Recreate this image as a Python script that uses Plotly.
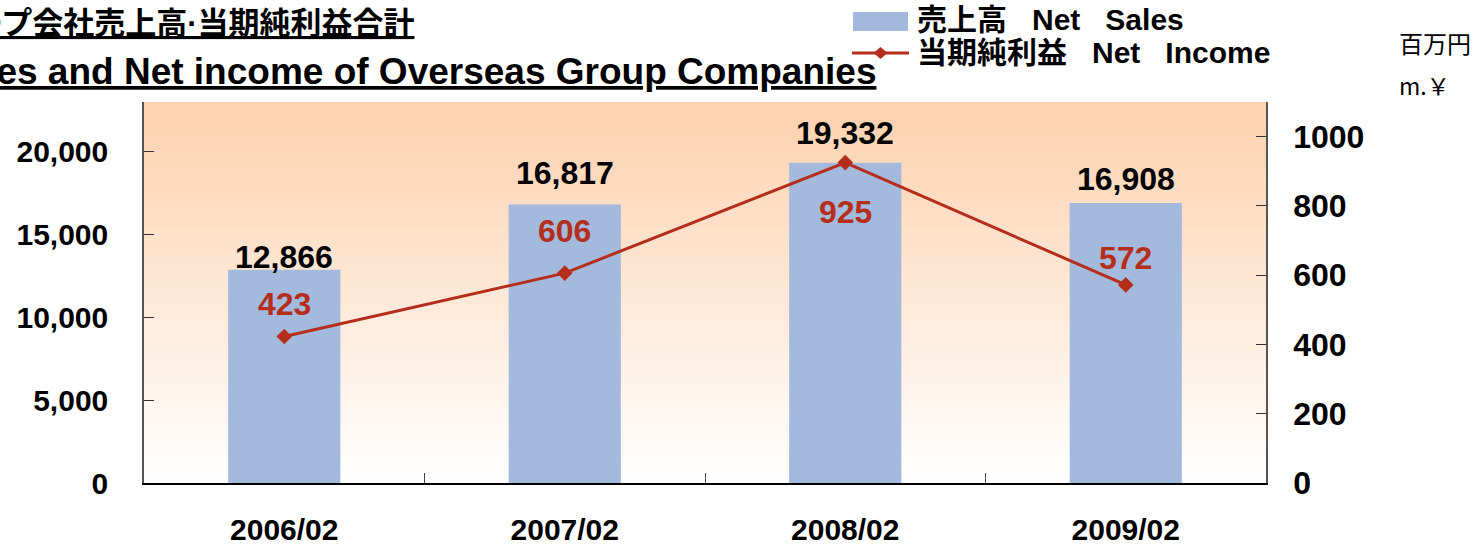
import plotly.graph_objects as go

# ---- data ----
categories = ["2006/02", "2007/02", "2008/02", "2009/02"]
net_sales = [12866, 16817, 19332, 16908]
net_income = [423, 606, 925, 572]
sales_tick_vals = [0, 5000, 10000, 15000, 20000]
sales_tick_text = ["0", "5,000", "10,000", "15,000", "20,000"]
income_tick_vals = [0, 200, 400, 600, 800, 1000]
income_tick_text = ["0", "200", "400", "600", "800", "1000"]
sales_name = "売上高\u00a0\u00a0\u00a0Net\u00a0\u00a0\u00a0Sales"
income_name = "当期純利益\u00a0\u00a0\u00a0Net\u00a0\u00a0\u00a0Income"

# ---- style ----
sales_label_shift = [13, 31, 30, 24]
income_label_shift = [32, 42, -49, 27]
BAR_COLOR = "#A3BADC"
LINE_COLOR = "#B52E1C"
FONT = "Liberation Sans, Arial, Noto Sans CJK JP, sans-serif"
JFONT = "Noto Sans CJK JP, Liberation Sans, sans-serif"

W, H = 1484, 547
ML, MR, MT, MB = 144, 218, 102, 64
PW, PH = W - ML - MR, H - MT - MB


def px(xp):
    return (xp - ML) / PW


def py(yp):
    return (H - MB - yp) / PH


fig = go.Figure()
fig.add_trace(go.Bar(
    x=categories, y=net_sales, name=sales_name, showlegend=False,
    marker=dict(color=BAR_COLOR, line=dict(width=0)), width=0.4, yaxis="y",
))
fig.add_trace(go.Scatter(
    x=categories, y=net_income, name=income_name, showlegend=False,
    mode="lines+markers", yaxis="y2",
    line=dict(color=LINE_COLOR, width=3),
    marker=dict(symbol="diamond", size=12, color=LINE_COLOR),
))

annotations = []
for c, v, s in zip(categories, net_sales, sales_label_shift):
    annotations.append(dict(x=c, y=v, xref="x", yref="y", text=f"<b>{v:,}</b>",
                            showarrow=False, yanchor="middle", yshift=s,
                            font=dict(family=FONT, size=32, color="black")))
for c, v, s in zip(categories, net_income, income_label_shift):
    annotations.append(dict(x=c, y=v, xref="x", yref="y2", text=f"<b>{v}</b>",
                            showarrow=False, yanchor="middle", yshift=s,
                            font=dict(family=FONT, size=32, color=LINE_COLOR)))

# titles (left part is cut by the page edge, as in the reference)
annotations.append(dict(xref="paper", yref="paper", x=px(416), y=py(24), xanchor="right",
                        yanchor="middle", showarrow=False,
                        text="<b><u>海外グループ会社売上高·当期純利益合計</u></b>",
                        font=dict(family=FONT, size=31, color="black")))
annotations.append(dict(xref="paper", yref="paper", x=px(878), y=py(72), xanchor="right",
                        yanchor="middle", showarrow=False,
                        text="<b><u>Net Sales and Net income of Overseas Group Companies</u></b>",
                        font=dict(family=FONT, size=37, color="black")))
# unit labels
annotations.append(dict(xref="paper", yref="paper", x=px(1397), y=py(43), xanchor="left",
                        yanchor="middle", showarrow=False, text="百万円",
                        font=dict(family=JFONT, size=24, color="black")))
annotations.append(dict(xref="paper", yref="paper", x=px(1397), y=py(85), xanchor="left",
                        yanchor="middle", showarrow=False, text="m.￥",
                        font=dict(family=JFONT, size=23, color="black")))

# custom legend
annotations.append(dict(xref="paper", yref="paper", x=px(915), y=py(19), xanchor="left",
                        yanchor="middle", showarrow=False, text=f"<b>{sales_name}</b>",
                        font=dict(family=FONT, size=30, color="black")))
annotations.append(dict(xref="paper", yref="paper", x=px(915), y=py(52), xanchor="left",
                        yanchor="middle", showarrow=False, text=f"<b>{income_name}</b>",
                        font=dict(family=FONT, size=30, color="black")))

shapes = []
# background gradient in plot area
N = 90
top = (252, 209, 174)
for i in range(N):
    t = i / (N - 1)  # 0 bottom -> 1 top
    r = round(255 + (top[0] - 255) * t)
    g = round(255 + (top[1] - 255) * t)
    b = round(255 + (top[2] - 255) * t)
    shapes.append(dict(type="rect", xref="paper", yref="paper", x0=0, x1=1,
                       y0=i / N, y1=min((i + 1) / N + 0.002, 1), layer="below",
                       fillcolor=f"rgb({r},{g},{b})", line=dict(width=0)))

# legend symbols
shapes.append(dict(type="rect", xref="paper", yref="paper", x0=px(853), x1=px(908),
                   y0=py(31), y1=py(12), fillcolor=BAR_COLOR, line=dict(width=0)))
shapes.append(dict(type="line", xref="paper", yref="paper", x0=px(852), x1=px(909),
                   y0=py(53), y1=py(53), line=dict(color=LINE_COLOR, width=3)))
cx, cy, dx, dy = 880.5, 53, 7, 6
shapes.append(dict(type="path", xref="paper", yref="paper",
                   path=(f"M{px(cx - dx)},{py(cy)} L{px(cx)},{py(cy - dy)} "
                         f"L{px(cx + dx)},{py(cy)} L{px(cx)},{py(cy + dy)} Z"),
                   fillcolor=LINE_COLOR, line=dict(width=0)))

fig.update_layout(
    width=W, height=H,
    margin=dict(l=ML, r=MR, t=MT, b=MB, autoexpand=False),
    paper_bgcolor="white", plot_bgcolor="rgba(0,0,0,0)",
    font=dict(family=FONT, color="black"),
    showlegend=False,
    bargap=0.6,
    xaxis=dict(type="category", showgrid=False, showline=True, linecolor="black", linewidth=1.5,
               ticks="inside", tickson="boundaries", ticklen=10, tickcolor="#444",
               tickfont=dict(family=FONT, size=30, color="black"),
               tickvals=categories, ticktext=[f"<b>{c}</b>" for c in categories],
               ticklabelstandoff=19, zeroline=False),
    yaxis=dict(range=[0, 23000], tickvals=sales_tick_vals,
               ticktext=[f"<b>{t}</b>" for t in sales_tick_text],
               showgrid=False, showline=True, linecolor="#555", linewidth=1.5,
               ticks="inside", ticklen=10, tickcolor="#333", zeroline=False,
               tickfont=dict(family=FONT, size=30, color="black"), ticklabelstandoff=28),
    yaxis2=dict(range=[0, 1100], tickvals=income_tick_vals,
                ticktext=[f"<b>{t}</b>" for t in income_tick_text],
                overlaying="y", side="right", showgrid=False, showline=True, linecolor="#555",
                linewidth=1.5, ticks="inside", ticklen=10, tickcolor="#333", zeroline=False,
                tickfont=dict(family=FONT, size=32, color="black"), ticklabelstandoff=19),
    annotations=annotations,
    shapes=shapes,
)

fig.write_html("out.html", config={"displayModeBar": False},
               post_script="document.body.style.margin='0';document.body.style.overflow='hidden';")
